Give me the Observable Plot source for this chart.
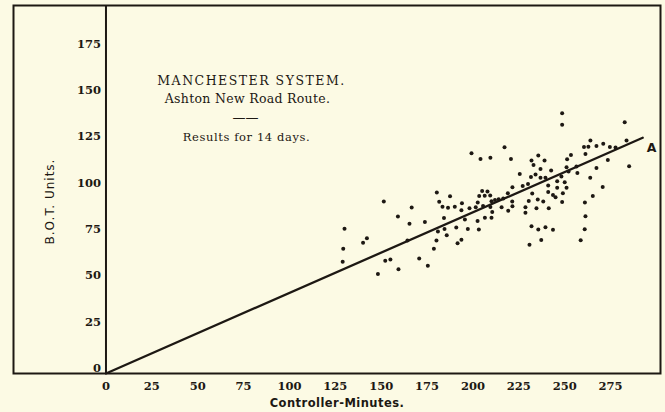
<!DOCTYPE html>
<html><head><meta charset="utf-8">
<script src="https://cdn.jsdelivr.net/npm/d3@7"></script>
<script src="https://cdn.jsdelivr.net/npm/@observablehq/plot@0.6"></script>
<style>
html,body{margin:0;padding:0;background:#fcfae4;}
#chart svg{display:block}
</style></head><body><div id="chart"></div>
<script>
// Tick labels
const xTicks = [0, 25, 50, 75, 100, 125, 150, 175, 200, 225, 250, 275];
const yTicks = [0, 25, 50, 75, 100, 125, 150, 175];

const minutes = [
  130.0, 129.3, 129.0, 140.1, 142.2, 151.4, 159.1, 166.6, 165.4, 164.3,
  152.2, 155.0, 148.2, 159.4, 170.7, 173.8, 175.4, 178.7, 180.1, 180.9,
  184.5, 185.7, 184.2, 180.3, 187.5, 181.6, 183.4, 186.4, 190.1, 194.0,
  193.7, 190.9, 193.7, 191.6, 195.6, 197.2, 198.1, 201.5, 202.6, 203.2,
  202.5, 206.5, 210.1, 210.5, 205.5, 209.5, 205.0, 207.9, 206.4, 203.4,
  209.4, 212.0, 210.1, 214.0, 216.5, 215.6, 219.2, 221.4, 221.5, 219.0,
  221.5, 199.2, 204.1, 209.5, 217.2, 220.7, 225.5, 227.1, 230.0, 232.3,
  231.9, 233.0, 231.6, 234.1, 235.6, 239.0, 236.8, 230.8, 237.2, 235.6,
  239.5, 243.6, 231.9, 228.6, 228.6, 230.4, 235.3, 238.3, 234.6, 241.3,
  245.0, 248.6, 261.0, 265.3, 261.3, 260.9, 258.7, 239.5, 242.6, 245.9,
  245.9, 241.0, 243.6, 248.2, 250.0, 251.0, 252.1, 253.4, 251.3, 256.4,
  256.9, 263.9, 267.3, 270.7, 251.0, 249.0, 248.6, 248.6, 282.7, 283.7,
  285.1, 264.0, 260.5, 262.9, 267.3, 271.0, 274.6, 277.7, 261.3, 273.5,
  236.8, 241.0
];
const units = [
  78.0, 67.2, 60.2, 70.5, 72.9, 92.7, 84.6, 89.5, 80.7, 71.7,
  60.8, 61.5, 53.6, 56.2, 62.0, 81.7, 58.1, 67.2, 71.7, 76.5,
  77.9, 74.5, 83.8, 97.6, 95.6, 92.6, 89.9, 89.4, 89.9, 91.8,
  88.0, 78.7, 72.1, 70.2, 83.0, 77.9, 89.1, 89.6, 92.2, 77.7,
  82.2, 84.0, 84.0, 87.1, 90.3, 89.8, 98.4, 98.1, 95.8, 95.7,
  96.0, 93.5, 92.9, 93.9, 94.4, 89.6, 87.8, 92.7, 90.2, 97.2,
  100.4, 118.8, 115.7, 116.3, 122.0, 115.7, 107.5, 101.1, 102.2, 97.0,
  114.8, 112.4, 105.9, 107.3, 117.5, 114.8, 105.5, 69.4, 72.0, 77.6,
  78.9, 77.5, 79.4, 89.6, 86.6, 93.0, 93.8, 92.7, 89.1, 89.1,
  95.0, 92.5, 92.2, 95.7, 84.8, 77.8, 71.9, 105.5, 109.4, 103.7,
  100.2, 97.8, 96.2, 106.2, 103.1, 111.2, 108.9, 117.8, 115.5, 111.6,
  108.1, 105.5, 110.8, 100.6, 100.1, 97.2, 140.3, 134.1, 135.4, 125.6,
  111.8, 125.6, 122.1, 122.2, 122.6, 123.9, 122.1, 121.8, 118.4, 115.1,
  110.3, 101.3
];

// Fitted line "A" through the origin
const fitMinutes = [0, 292.5];
const fitUnits = [0, 127.1];

const points = minutes.map((m, i) => ({m, u: units[i]}));
const fit = fitMinutes.map((m, i) => ({m, u: fitUnits[i]}));

const ink = "#1d1813";
const bg = "#fcfae4";
const serif = "'DejaVu Serif', serif";
const sans = "'DejaVu Sans', sans-serif";

const chart = Plot.plot({
  width: 665,
  height: 412,
  marginLeft: 13,
  marginRight: 5,
  marginTop: 5,
  marginBottom: 39,
  style: {background: bg, color: ink},
  x: {domain: [-50.4, 302.2], axis: null},
  y: {domain: [0, 198.4], axis: null},
  marks: [
    Plot.frame({stroke: ink, strokeWidth: 2}),
    Plot.ruleX([0], {stroke: ink, strokeWidth: 2}),
    Plot.line(fit, {x: "m", y: "u", stroke: ink, strokeWidth: 2.3}),
    Plot.dot(points, {x: "m", y: "u", r: 2, fill: ink, stroke: null}),
    Plot.text(yTicks, {x: 0, y: d => d, text: d => String(d), textAnchor: "end", dx: -5, dy: -5,
      fontSize: 11.5, fontWeight: "bold", fontFamily: serif, fill: ink}),
    Plot.text(xTicks, {x: d => d, y: 0, text: d => String(d), dy: 13,
      fontSize: 11.5, fontWeight: "bold", fontFamily: serif, fill: ink}),
    Plot.text(["A"], {x: fitMinutes[1], y: fitUnits[1], text: d => d, textAnchor: "start", dx: 4, dy: 10,
      fontSize: 12.5, fontWeight: "bold", fontFamily: sans, fill: ink}),
    Plot.text(["Controller-Minutes."], {frameAnchor: "bottom", text: d => d, dy: 33,
      fontSize: 11.5, fontWeight: "bold", fontFamily: sans, fill: ink}),
    Plot.text(["B.O.T. Units."], {frameAnchor: "left", text: d => d, rotate: -90, dx: 37, dy: 12,
      textAnchor: "middle", fontSize: 12, fontFamily: sans, fill: ink}),
    Plot.text(["MANCHESTER SYSTEM."], {frameAnchor: "top-left", text: d => d, dx: 238, dy: 71,
      textAnchor: "middle", fontSize: 12.5, fontFamily: serif, fill: ink}),
    Plot.text(["Ashton New Road Route."], {frameAnchor: "top-left", text: d => d, dx: 234, dy: 89,
      textAnchor: "middle", fontSize: 12.5, fontFamily: serif, fill: ink}),
    Plot.text(["——"], {frameAnchor: "top-left", text: d => d, dx: 232, dy: 107,
      textAnchor: "middle", fontSize: 13, fontFamily: serif, fill: ink}),
    Plot.text(["Results for 14 days."], {frameAnchor: "top-left", text: d => d, dx: 233, dy: 127,
      textAnchor: "middle", fontSize: 11.5, fontFamily: serif, fill: ink})
  ]
});

// letter spacing for the printed labels
const spacing = {
  "MANCHESTER SYSTEM.": "1.5px",
  "Ashton New Road Route.": "0.3px",
  "Results for 14 days.": "0.6px",
  "B.O.T. Units.": "1px",
  "Controller-Minutes.": "0.45px"
};
d3.select(chart).selectAll("text").each(function() {
  const s = spacing[this.textContent];
  if (s) this.setAttribute("letter-spacing", s);
});
document.getElementById("chart").appendChild(chart);
</script>
</body></html>
